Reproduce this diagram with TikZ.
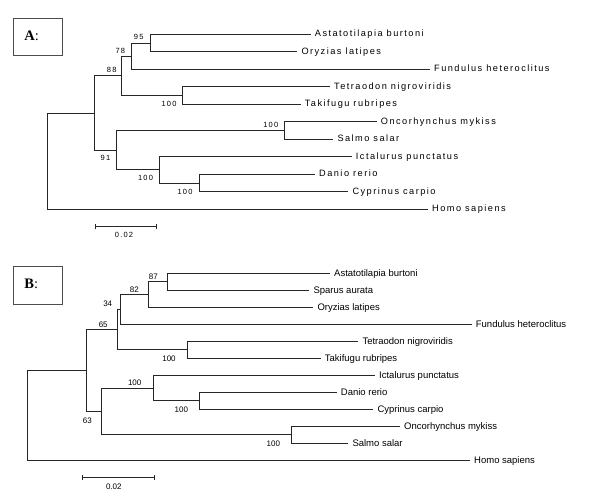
\documentclass[tikz,border=0pt]{standalone}
\usepackage{fontspec}
\setmainfont{Liberation Sans}
\newfontfamily\trackfont[LetterSpace=16]{Liberation Sans}
\newfontfamily\panelfont{Liberation Serif}
\begin{document}
\begin{tikzpicture}[x=1pt,y=-1pt,
  br/.style={draw=black!85, line width=0.8pt},
  leafA/.style={anchor=west, inner xsep=4pt, inner ysep=0pt, text height=0.55em, text depth=0pt,
    font=\trackfont\fontsize{9.2}{10}\selectfont},
  leafB/.style={anchor=west, inner xsep=4pt, inner ysep=0pt, text height=0.55em, text depth=0pt,
    font=\fontsize{9.5}{11}\selectfont},
  bsA/.style={inner sep=0pt, font=\trackfont\fontsize{7.5}{9}\selectfont},
  bsB/.style={inner sep=0pt, font=\fontsize{8}{9}\selectfont},
  panelbox/.style={draw=black!70, line width=0.8pt, minimum width=48.7pt, minimum height=37.4pt, inner sep=0pt},
  paneltxt/.style={inner sep=0pt, font=\panelfont\fontsize{14.5}{16}\selectfont},
  scalebar/.style={draw=black!85, line width=0.8pt}
]
\useasboundingbox[fill=white] (0,0) rectangle (600,493);

% ---------------- Panel A ----------------
\node[panelbox] (boxA) at (37.65,37) {};
\node[paneltxt] (labA) at (31.7,36) {\textbf{A}:};

\coordinate (rA) at (47,160);
\coordinate (a1) at (94.5,113);
\coordinate (a88) at (121.5,75.8);
\coordinate (a78) at (131,56.1);
\coordinate (a95) at (150.7,42.95);
\coordinate (aTT) at (182.7,95.45);
\coordinate (a91) at (116.7,150.1);
\coordinate (aOS) at (284,130.45);
\coordinate (aIC) at (159,169.8);
\coordinate (aDC) at (199.3,182.95);

\node[leafA] (aAst) at (310.7,34.2) {Astatotilapia burtoni};
\node[leafA] (aOry) at (297.3,51.7) {Oryzias latipes};
\node[leafA] (aFun) at (430,69.2) {Fundulus heteroclitus};
\node[leafA] (aTet) at (330,86.7) {Tetraodon nigroviridis};
\node[leafA] (aTak) at (300.7,104.2) {Takifugu rubripes};
\node[leafA] (aOnc) at (376.7,121.7) {Oncorhynchus mykiss};
\node[leafA] (aSal) at (333.3,139.2) {Salmo salar};
\node[leafA] (aIct) at (351.7,156.7) {Ictalurus punctatus};
\node[leafA] (aDan) at (315,174.2) {Danio rerio};
\node[leafA] (aCyp) at (348.3,191.7) {Cyprinus carpio};
\node[leafA] (aHom) at (428,209.2) {Homo sapiens};

\draw[br] (rA) |- (a1);   \draw[br] (rA) |- (aHom);
\draw[br] (a1) |- (a88);  \draw[br] (a1) |- (a91);
\draw[br] (a88) |- (a78); \draw[br] (a88) |- (aTT);
\draw[br] (a78) |- (a95); \draw[br] (a78) |- (aFun);
\draw[br] (a95) |- (aAst); \draw[br] (a95) |- (aOry);
\draw[br] (aTT) |- (aTet); \draw[br] (aTT) |- (aTak);
\draw[br] (a91) |- (aOS); \draw[br] (a91) |- (aIC);
\draw[br] (aOS) |- (aOnc); \draw[br] (aOS) |- (aSal);
\draw[br] (aIC) |- (aIct); \draw[br] (aIC) |- (aDC);
\draw[br] (aDC) |- (aDan); \draw[br] (aDC) |- (aCyp);

\node[bsA] (bsA95) at (138.7,37.2) {95};
\node[bsA] (bsA78) at (120.3,50.5) {78};
\node[bsA] (bsA88) at (111.7,70) {88};
\node[bsA] (bsATT) at (169,103.8) {100};
\node[bsA] (bsAOS) at (270.8,124.5) {100};
\node[bsA] (bsA91) at (105.5,158.3) {91};
\node[bsA] (bsAIC) at (145.5,178.3) {100};
\node[bsA] (bsADC) at (185,191.7) {100};

\coordinate (sA1) at (95,226.7);
\coordinate (sA2) at (156.7,226.7);
\draw[scalebar] (sA1) -- (sA2);
\draw[scalebar] ([yshift=-2.7pt]sA1) -- ([yshift=2.7pt]sA1);
\draw[scalebar] ([yshift=-2.7pt]sA2) -- ([yshift=2.7pt]sA2);
\node[bsA] (sAlab) at (124,235) {0.02};

% ---------------- Panel B ----------------
\node[panelbox] (boxB) at (37.65,285.35) {};
\node[paneltxt] (labB) at (31.2,284) {\textbf{B}:};

\coordinate (rB) at (27.7,415);
\coordinate (b1) at (86.7,370.5);
\coordinate (bX) at (117.7,329.6);
\coordinate (b34) at (120.7,309.4);
\coordinate (b82) at (148.3,294.55);
\coordinate (b87) at (167.3,281.8);
\coordinate (bTT) at (187.7,349.8);
\coordinate (b63) at (101.7,411.4);
\coordinate (bID) at (153.3,388.05);
\coordinate (bDC) at (199.3,400.8);
\coordinate (bOS) at (291.7,434.8);

\node[leafB] (bAst) at (330,273.3) {Astatotilapia burtoni};
\node[leafB] (bSpa) at (309.3,290.3) {Sparus aurata};
\node[leafB] (bOry) at (313.3,307.3) {Oryzias latipes};
\node[leafB] (bFun) at (471.7,324.3) {Fundulus heteroclitus};
\node[leafB] (bTet) at (358.3,341.3) {Tetraodon nigroviridis};
\node[leafB] (bTak) at (320.7,358.3) {Takifugu rubripes};
\node[leafB] (bIct) at (375,375.3) {Ictalurus punctatus};
\node[leafB] (bDan) at (336.7,392.3) {Danio rerio};
\node[leafB] (bCyp) at (373.3,409.3) {Cyprinus carpio};
\node[leafB] (bOnc) at (400,426.3) {Oncorhynchus mykiss};
\node[leafB] (bSal) at (348.3,443.3) {Salmo salar};
\node[leafB] (bHom) at (470,460.3) {Homo sapiens};

\draw[br] (rB) |- (b1);   \draw[br] (rB) |- (bHom);
\draw[br] (b1) |- (bX);   \draw[br] (b1) |- (b63);
\draw[br] (bX) |- (b34);  \draw[br] (bX) |- (bTT);
\draw[br] (b34) |- (b82); \draw[br] (b34) |- (bFun);
\draw[br] (b82) |- (b87); \draw[br] (b82) |- (bOry);
\draw[br] (b87) |- (bAst); \draw[br] (b87) |- (bSpa);
\draw[br] (bTT) |- (bTet); \draw[br] (bTT) |- (bTak);
\draw[br] (b63) |- (bID); \draw[br] (b63) |- (bOS);
\draw[br] (bID) |- (bIct); \draw[br] (bID) |- (bDC);
\draw[br] (bDC) |- (bDan); \draw[br] (bDC) |- (bCyp);
\draw[br] (bOS) |- (bOnc); \draw[br] (bOS) |- (bSal);

\node[bsB] (bsB87) at (153.3,276.7) {87};
\node[bsB] (bsB82) at (134.3,289.5) {82};
\node[bsB] (bsB34) at (107.7,304) {34};
\node[bsB] (bsB65) at (103.2,325) {65};
\node[bsB] (bsBTT) at (169,359) {100};
\node[bsB] (bsBID) at (134.7,383.2) {100};
\node[bsB] (bsBDC) at (181.3,409.7) {100};
\node[bsB] (bsB63) at (87.3,421.2) {63};
\node[bsB] (bsBOS) at (273.3,443.7) {100};

\coordinate (sB1) at (82.7,477.7);
\coordinate (sB2) at (154,477.7);
\draw[scalebar] (sB1) -- (sB2);
\draw[scalebar] ([yshift=-2.7pt]sB1) -- ([yshift=2.7pt]sB1);
\draw[scalebar] ([yshift=-2.7pt]sB2) -- ([yshift=2.7pt]sB2);
\node[bsB] (sBlab) at (113.8,487) {0.02};
\end{tikzpicture}
\end{document}
